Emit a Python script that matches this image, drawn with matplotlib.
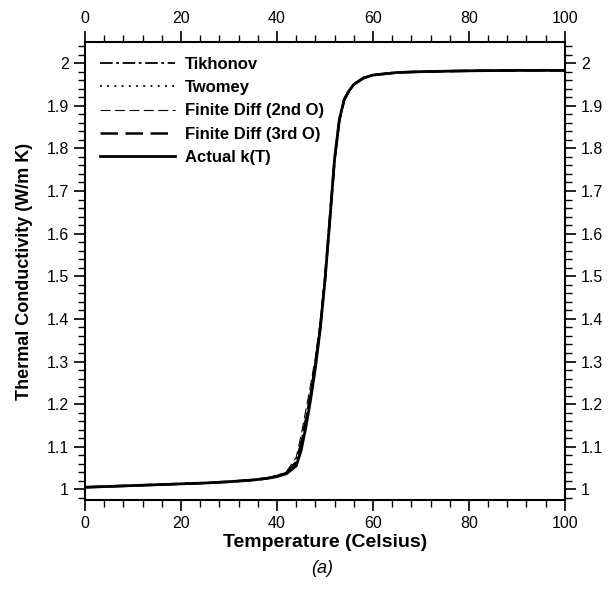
import matplotlib
matplotlib.use("Agg")
import matplotlib.pyplot as plt
from matplotlib.ticker import MultipleLocator

plt.rcParams["font.family"] = ["Liberation Sans", "DejaVu Sans"]

# temperature grid (Celsius)
temp = [0, 5, 10, 15, 20, 25, 30, 35, 38, 40, 42, 44, 45, 46, 47, 48, 49, 50,
        51, 52, 53, 54, 55, 56, 58, 60, 65, 70, 80, 90, 100]

k_actual = [1.005, 1.007, 1.009, 1.011, 1.013, 1.015, 1.018, 1.022, 1.026, 1.030,
            1.037, 1.055, 1.090, 1.145, 1.210, 1.285, 1.375, 1.490, 1.630, 1.775,
            1.868, 1.915, 1.935, 1.950, 1.965, 1.972, 1.978, 1.980, 1.982, 1.983, 1.983]

k_tikhonov = [1.005, 1.007, 1.009, 1.011, 1.013, 1.015, 1.018, 1.023, 1.027, 1.032,
              1.040, 1.066, 1.108, 1.165, 1.226, 1.298, 1.382, 1.495, 1.630, 1.772,
              1.865, 1.913, 1.934, 1.949, 1.964, 1.972, 1.978, 1.980, 1.982, 1.983, 1.983]

k_twomey = [1.005, 1.007, 1.009, 1.011, 1.013, 1.015, 1.018, 1.022, 1.026, 1.031,
            1.038, 1.056, 1.092, 1.148, 1.210, 1.286, 1.376, 1.490, 1.632, 1.774,
            1.867, 1.914, 1.935, 1.950, 1.965, 1.972, 1.978, 1.980, 1.982, 1.983, 1.983]

k_fd2 = [1.005, 1.007, 1.009, 1.011, 1.013, 1.015, 1.018, 1.023, 1.027, 1.033,
         1.042, 1.075, 1.125, 1.185, 1.245, 1.310, 1.392, 1.500, 1.635, 1.773,
         1.865, 1.912, 1.934, 1.949, 1.964, 1.972, 1.978, 1.980, 1.982, 1.983, 1.983]

k_fd3 = [1.005, 1.007, 1.009, 1.011, 1.013, 1.015, 1.018, 1.022, 1.026, 1.031,
         1.039, 1.063, 1.104, 1.160, 1.220, 1.294, 1.380, 1.493, 1.632, 1.774,
         1.866, 1.913, 1.935, 1.950, 1.965, 1.972, 1.978, 1.980, 1.982, 1.983, 1.983]


def main():
    fig = plt.figure(figsize=(6.12, 5.89), dpi=100)
    ax = fig.add_axes([0.139, 0.151, 0.784, 0.778])

    ax.plot(temp, k_tikhonov, color="black", lw=1.3, ls=(0, (7, 2, 1.5, 2)), label="Tikhonov")
    ax.plot(temp, k_twomey, color="black", lw=1.3, ls=(0, (1, 3)), label="Twomey")
    ax.plot(temp, k_fd2, color="black", lw=0.8, ls=(0, (9, 4)), label="Finite Diff (2nd O)")
    ax.plot(temp, k_fd3, color="black", lw=1.8, ls=(0, (7, 3)), label="Finite Diff (3rd O)")
    ax.plot(temp, k_actual, color="black", lw=2.0, ls="-", label="Actual k(T)")

    ax.set_xlim(0, 100)
    ax.set_ylim(0.975, 2.05)

    ax.xaxis.set_major_locator(MultipleLocator(20))
    ax.xaxis.set_minor_locator(MultipleLocator(4))
    ax.yaxis.set_major_locator(MultipleLocator(0.1))
    ax.yaxis.set_minor_locator(MultipleLocator(0.02))
    ax.yaxis.set_major_formatter(plt.FuncFormatter(lambda v, p: f"{v:g}"))

    ax.tick_params(which="both", direction="out", top=True, right=True,
                   labeltop=True, labelright=True, labelsize=11.5, width=1.2)
    ax.tick_params(which="major", length=8)
    ax.tick_params(which="minor", length=5, width=1.0)
    for s in ax.spines.values():
        s.set_linewidth(1.5)

    ax.set_xlabel("Temperature (Celsius)", fontsize=14, fontweight="bold", labelpad=2)
    ax.set_ylabel("Thermal Conductivity (W/m K)", fontsize=13, fontweight="bold", labelpad=10)

    ax.legend(loc="upper left", frameon=False, handlelength=4.5, handletextpad=0.6,
              labelspacing=0.5, borderaxespad=0.5,
              prop={"weight": "bold", "size": 12})

    fig.text(0.527, 0.028, "(a)", style="italic", fontsize=13, ha="center")

    plt.savefig("out.png", dpi=100)
    plt.close()


if __name__ == "__main__":
    main()
